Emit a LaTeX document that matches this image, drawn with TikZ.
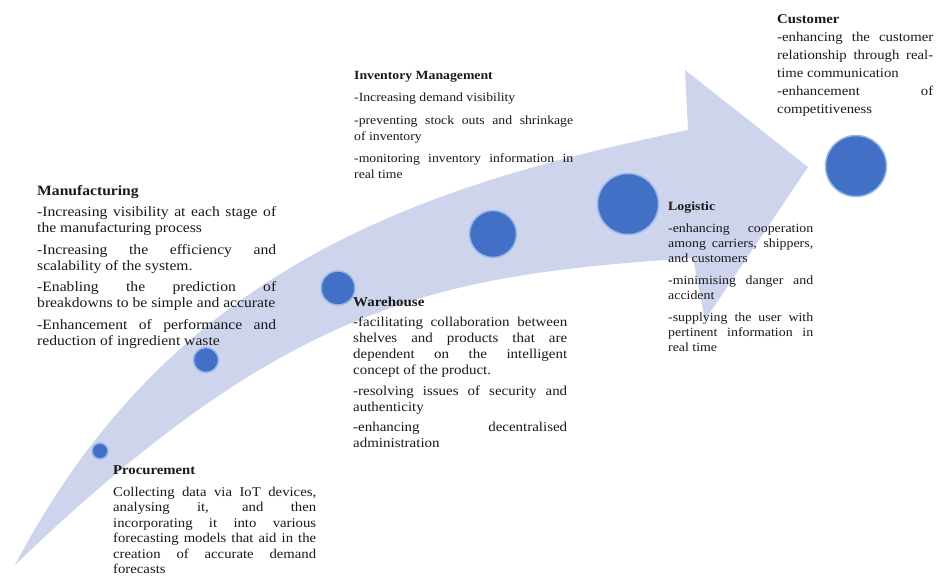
\documentclass[tikz,border=0pt]{standalone}
\usepackage{fontspec}
\setmainfont[FakeStretch=1.1]{Liberation Serif}
\usepackage{xcolor}

\definecolor{bandblue}{RGB}{206,212,235}
\definecolor{dotblue}{RGB}{66,112,198}
\definecolor{haloblue}{RGB}{150,184,232}
\definecolor{inkgray}{RGB}{25,25,25}

% size, line skip, gap between items
\newcommand{\blockfont}[3]{\fontsize{#1}{#2}\selectfont\setlength{\parskip}{#3}%
  \setlength{\parindent}{0pt}\tolerance=10000\hyphenpenalty=10000}

\begin{document}
\begin{tikzpicture}[x=1pt, y=-1pt,
    dot/.style={circle, fill=dotblue, draw=haloblue, line width=1.5pt, inner sep=0pt},
    note/.style={anchor=base west, inner sep=0pt, align=justify, text width=#1, text=inkgray}]
    \useasboundingbox (0,0) rectangle (941,576);

    % the swoosh arrow
    \fill[bandblue] (15,565) .. controls (175,260) and (432,184) .. (688,130)
        -- (685,70) -- (808,167) -- (705,320) -- (693,258)
        .. controls (440,275) and (290,300) .. (15,565) -- cycle;

    % stages on the arrow
    \node[dot, minimum size=16] (dproc) at (100,451) {};
    \node[dot, minimum size=25] (dmanu) at (206,360) {};
    \node[dot, minimum size=34] (dware) at (338,288) {};
    \node[dot, minimum size=47] (dinv) at (493,234) {};
    \node[dot, minimum size=61] (dlog) at (628,204) {};
    \node[dot, minimum size=61] (dcust) at (856,166) {};

    % texts
    \node[note=239, font=\blockfont{14.2}{16}{5.5pt}] (manu) at (37,195) {%
        {\bfseries Manufacturing}\par
        -Increasing visibility at each stage of\linebreak the manufacturing process\par
        -Increasing the efficiency and\linebreak scalability of the system.\par
        -Enabling the prediction of\linebreak breakdowns to be simple and accurate\par
        -Enhancement of performance and\linebreak reduction of ingredient waste};
    \node[note=203, font=\blockfont{13.4}{15.5}{6.5pt}] (proc) at (113,474) {%
        {\bfseries Procurement}\par
        Collecting data via IoT devices,\linebreak analysing it, and then\linebreak
        incorporating it into various\linebreak forecasting models that aid in the\linebreak
        creation of accurate demand\linebreak forecasts};
    \node[note=214, font=\blockfont{13.6}{16}{4.5pt}] (ware) at (353,306) {%
        {\bfseries Warehouse}\par
        -facilitating collaboration between\linebreak shelves and products that are\linebreak
        dependent on the intelligent\linebreak concept of the product.\par
        -resolving issues of security and\linebreak authenticity\par
        -enhancing decentralised\linebreak administration};
    \node[note=219, font=\blockfont{12.5}{16}{6.5pt}] (inv) at (354,79) {%
        {\bfseries Inventory Management}\par
        -Increasing demand visibility\par
        -preventing stock outs and shrinkage\linebreak of inventory\par
        -monitoring inventory information in\linebreak real time};
    \node[note=145, font=\blockfont{12.6}{15}{7pt}] (logi) at (668,210) {%
        {\bfseries Logistic}\par
        -enhancing cooperation\linebreak among carriers, shippers,\linebreak and customers\par
        -minimising danger and\linebreak accident\par
        -supplying the user with\linebreak pertinent information in\linebreak real time};
    \node[note=156, font=\blockfont{13.4}{18}{0pt}] (cust) at (777,23) {%
        {\bfseries Customer}\par
        -enhancing the customer\linebreak relationship through real-\linebreak time communication\par
        -enhancement of\linebreak competitiveness};
\end{tikzpicture}
\end{document}
